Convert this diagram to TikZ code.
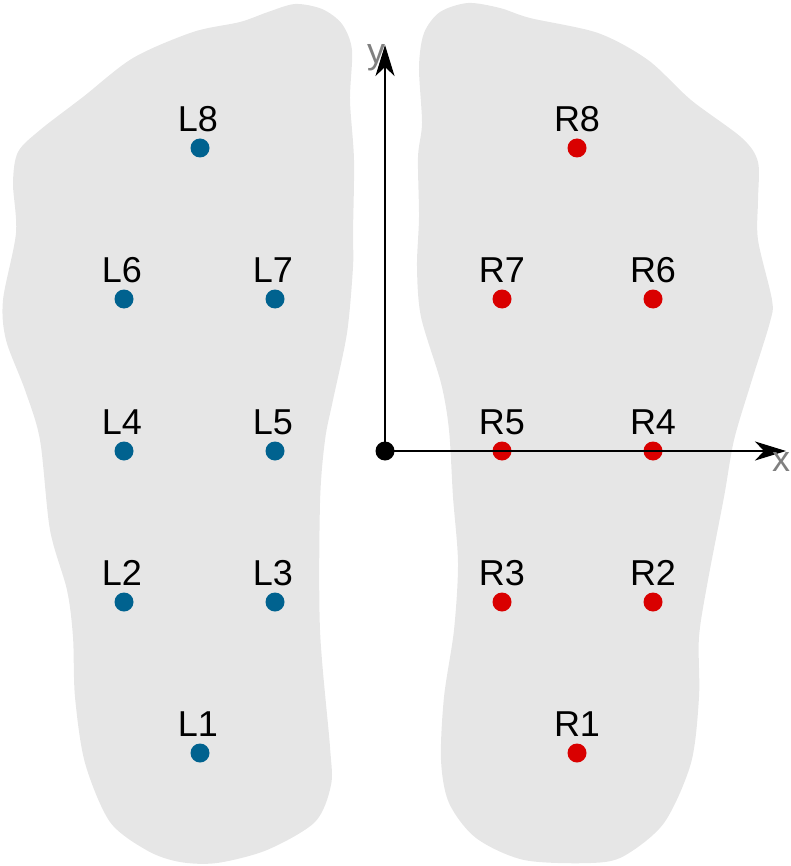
\documentclass[tikz,border=0pt]{standalone}
\usepackage{fontspec}
\setmainfont{Liberation Sans}
\usetikzlibrary{arrows.meta,positioning}
\definecolor{solegray}{RGB}{230,230,230}
\definecolor{leftblue}{RGB}{0,98,143}
\definecolor{rightred}{RGB}{217,0,0}
\definecolor{axisgray}{RGB}{128,128,128}
\tikzset{
  sole/.style={fill=solegray},
  leftdot/.style={circle, fill=leftblue, inner sep=0pt, minimum size=19pt},
  rightdot/.style={circle, fill=rightred, inner sep=0pt, minimum size=19pt},
  tag/.style={inner sep=0pt, font=\fontsize{36}{42}\selectfont},
  axis/.style={line width=2pt, -{Stealth[length=31pt,width=19pt,inset=9pt]}},
  axislabel/.style={text=axisgray, inner sep=0pt, font=\fontsize{36}{42}\selectfont}
}
\begin{document}
\begin{tikzpicture}[x=1pt,y=-1pt]
\useasboundingbox (0,0) rectangle (791,866);
% left sole
\fill[sole] plot[smooth cycle] coordinates {(295,4) (322,9) (342,24) (352,50) (350,100) (354,160) (353,233) (353,267) (347,333) (333,400) (325,440) (320,503) (320,630) (330,747) (331,785) (315,822) (267,850) (217,863) (180,862) (148,851) (110,822) (85,763) (75,697) (73,637) (67,590) (50,530) (40,440) (25,390) (6,340) (3,300) (16,233) (13,183) (18,152) (40,130) (83,97) (133,58) (193,32) (240,22) (268,12)};
% right sole
\fill[sole] plot[smooth cycle] coordinates {(468,3) (500,8) (530,18) (598,33) (648,60) (691,100) (742,138) (758,162) (758,200) (758,240) (772,300) (770,322) (751,383) (734,440) (724,497) (708,580) (699,637) (699,697) (691,763) (664,823) (624,856) (591,863) (524,860) (476,838) (449,803) (441,760) (444,697) (454,630) (458,563) (453,497) (449,430) (441,383) (421,317) (417,267) (419,217) (418,157) (422,123) (419,67) (424,33) (440,12)};
% sensors
\foreach \n/\x/\y in {L1/200/753, L2/124/602, L3/275/602, L4/124/451, L5/275/451, L6/124/299, L7/275/299, L8/200/148}{
  \node[leftdot] (\n) at (\x,\y) {};
  \node[tag, above=6.5pt of \n, xshift=-2pt] {\n};
}
\foreach \n/\x/\y in {R1/577/753, R2/653/602, R3/502/602, R4/653/451, R5/502/451, R6/653/299, R7/502/299, R8/577/148}{
  \node[rightdot] (\n) at (\x,\y) {};
  \node[tag, above=6.5pt of \n] {\n};
}
% axes
\coordinate (ytip) at (385,45);
\coordinate (xtip) at (786,451);
\draw[axis] (385,451) -- (ytip);
\draw[axis] (385,451) -- (xtip);
\node[circle, fill=black, inner sep=0pt, minimum size=19pt] (O) at (385,451) {};
\node[axislabel] (ylab) at (376,58) {y};
\node[axislabel] (xlab) at (781,462) {x};
\end{tikzpicture}
\end{document}
